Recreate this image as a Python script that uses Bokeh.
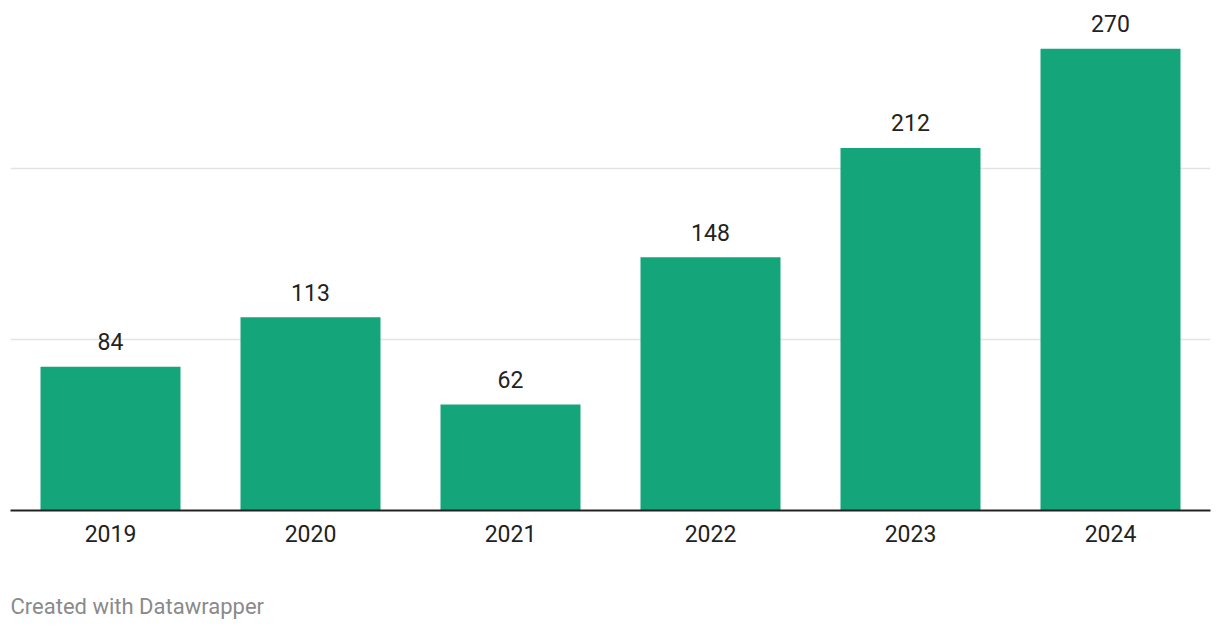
from bokeh.plotting import figure
from bokeh.models import ColumnDataSource, FactorRange, Range1d, FixedTicker, Title
from bokeh.core.properties import value
from bokeh.embed import file_html
from bokeh.resources import INLINE

years = ["2019", "2020", "2021", "2022", "2023", "2024"]
counts = [84, 113, 62, 148, 212, 270]
grid_values = [100, 200]

source = ColumnDataSource(dict(year=years, count=counts, label=[str(c) for c in counts]))

p = figure(x_range=FactorRange(*years, range_padding=0), y_range=Range1d(0, 290),
           frame_width=1200, frame_height=496, output_backend="svg", toolbar_location=None,
           min_border_left=10, min_border_right=2, min_border_top=14, min_border_bottom=2)
p.outline_line_color = None
p.background_fill_color = "white"
p.border_fill_color = "white"

p.vbar(x="year", top="count", width=0.7, source=source, color="#14a57b", line_color=None)

p.text(x="year", y="count", text="label", source=source, text_align="center",
       text_baseline="alphabetic", y_offset=-25, text_font=value("Roboto"),
       text_font_size="23px", text_color="#222222")

p.yaxis.visible = False
p.ygrid.ticker = FixedTicker(ticks=grid_values)
p.ygrid.grid_line_color = "#e3e3e3"
p.ygrid.grid_line_width = 1.5
p.xgrid.grid_line_color = None

ax = p.xaxis[0]
ax.axis_line_color = "#222222"
ax.axis_line_width = 2
ax.major_tick_line_color = None
ax.minor_tick_line_color = None
ax.major_tick_in = 0
ax.major_tick_out = 0
ax.major_label_standoff = 14
ax.major_label_text_font = "Roboto"
ax.major_label_text_font_size = "23px"
ax.major_label_text_color = "#222222"

footer = Title(text="Created with Datawrapper", align="left", text_font="Roboto",
               text_font_size="22px", text_font_style="normal", text_color="#8a8a8a",
               standoff=94)
p.add_layout(footer, "below")

open("out.html", "w").write(file_html(p, INLINE))
